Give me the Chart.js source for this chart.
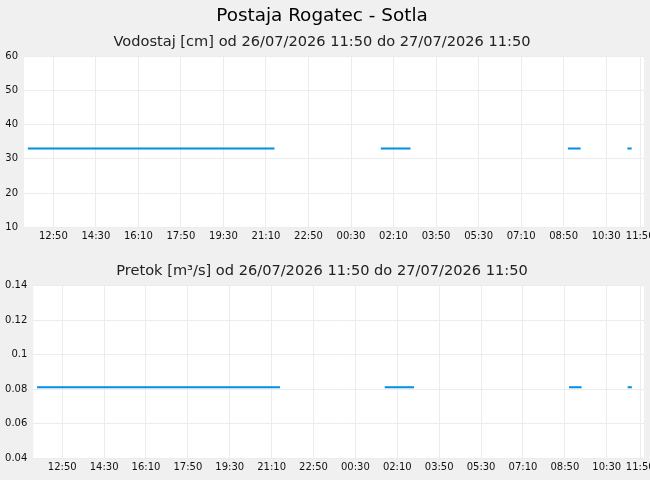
<!DOCTYPE html>
<html>
<head>
<meta charset="utf-8">
<script src="https://cdn.jsdelivr.net/npm/chart.js@4"></script>
<style>
  body { margin: 0; background: #f0f0f0; }
  #wrap { position: relative; width: 650px; height: 480px; }
  canvas { position: absolute; left: 0; }
</style>
</head>
<body>
<div id="wrap">
  <canvas id="vodostaj" width="650" height="250" style="top:0"></canvas>
  <canvas id="pretok" width="650" height="230" style="top:250px"></canvas>
</div>
<script>
// merilni casi (dan/mesec ura:min), null = ni podatka
const times = ['26/07 11:50', '26/07 21:30', '26/07 21:40', '27/07 01:40', '27/07 02:50', '27/07 03:00',
               '27/07 09:00', '27/07 09:30', '27/07 09:40', '27/07 11:20', '27/07 11:30'];
const vodostaj = [33, 33, null, 33, 33, null, 33, 33, null, 33, 33];
const pretok = [0.081, 0.081, null, 0.081, 0.081, null, 0.081, 0.081, null, 0.081, 0.081];

const tickTimes = ['26/07 12:50', '26/07 14:30', '26/07 16:10', '26/07 17:50', '26/07 19:30', '26/07 21:10',
                   '26/07 22:50', '27/07 00:30', '27/07 02:10', '27/07 03:50', '27/07 05:30', '27/07 07:10',
                   '27/07 08:50', '27/07 10:30', '27/07 11:50'];

const title = 'Postaja Rogatec - Sotla';
const naslovVodostaj = 'Vodostaj [cm] od 26/07/2026 11:50 do 27/07/2026 11:50';
const naslovPretok = 'Pretok [m³/s] od 26/07/2026 11:50 do 27/07/2026 11:50';

Chart.defaults.font.family = "'DejaVu Sans', sans-serif";
Chart.defaults.color = '#111';

function toMinutes(s) {
    const [dm, hm] = s.split(' ');
    const day = parseInt(dm.split('/')[0]);
    const [h, m] = hm.split(':').map(Number);
    return (day - 26) * 1440 + h * 60 + m - (11 * 60 + 50);
}

const tickValues = tickTimes.map(toMinutes);
const tickLabel = {};
tickTimes.forEach((t, i) => { tickLabel[tickValues[i]] = t.split(' ')[1]; });

const plotBg = {
    id: 'plotBg',
    beforeDraw(chart) {
        const a = chart.chartArea;
        chart.ctx.save();
        chart.ctx.fillStyle = '#fff';
        chart.ctx.fillRect(a.left, a.top, a.right - a.left, a.bottom - a.top);
        chart.ctx.restore();
    }
};

function makeChart(id, values, yOpts, axisWidth, axisHeight, titles) {
    const ctx = document.getElementById(id).getContext('2d');
    return new Chart(ctx, {
        type: 'line',
        data: {
            datasets: [{
                data: times.map((t, i) => ({ x: toMinutes(t), y: values[i] })),
                borderColor: '#008fe5',
                borderWidth: 2,
                pointRadius: 0,
                spanGaps: false,
                tension: 0
            }]
        },
        options: {
            responsive: false,
            animation: false,
            layout: { padding: { left: 0, right: 6, top: 0, bottom: 0 } },
            plugins: {
                legend: { display: false },
                tooltip: { enabled: false },
                title: titles.title,
                subtitle: titles.subtitle
            },
            scales: {
                x: {
                    type: 'linear',
                    min: -9,
                    max: 1449,
                    grid: { color: '#ececec', drawTicks: false },
                    border: { display: false },
                    ticks: {
                        font: { size: 10 },
                        padding: 3,
                        maxRotation: 0,
                        autoSkip: false,
                        callback: v => tickLabel[v]
                    },
                    afterBuildTicks: s => { s.ticks = tickValues.map(v => ({ value: v })); },
                    afterFit: s => { s.height = axisHeight; s.paddingLeft = 0; s.paddingRight = 0; }
                },
                y: Object.assign({
                    grid: { color: '#ececec', drawTicks: false },
                    border: { display: false },
                    afterFit: s => { s.width = axisWidth; }
                }, yOpts)
            }
        },
        plugins: [plotBg]
    });
}

makeChart('vodostaj', vodostaj, {
    min: 10, max: 60,
    ticks: { stepSize: 10, font: { size: 10 }, padding: 6 }
}, 24, 22.7, {
    title: { display: true, text: title, font: { size: 18.4, weight: 'normal' }, color: '#000', padding: { top: 5, bottom: 0 } },
    subtitle: { display: true, text: naslovVodostaj, font: { size: 14.6, weight: 'normal' }, color: '#222', padding: { top: 6, bottom: 5.5 } }
});

makeChart('pretok', pretok, {
    min: 0.04, max: 0.14,
    ticks: { stepSize: 0.02, font: { size: 10 }, padding: 6, callback: v => String(Number(v.toFixed(2))) }
}, 33.3, 22, {
    title: { display: true, text: naslovPretok, font: { size: 14.6, weight: 'normal' }, color: '#222', padding: { top: 12, bottom: 6.2 } },
    subtitle: { display: false }
});
</script>
</body>
</html>
